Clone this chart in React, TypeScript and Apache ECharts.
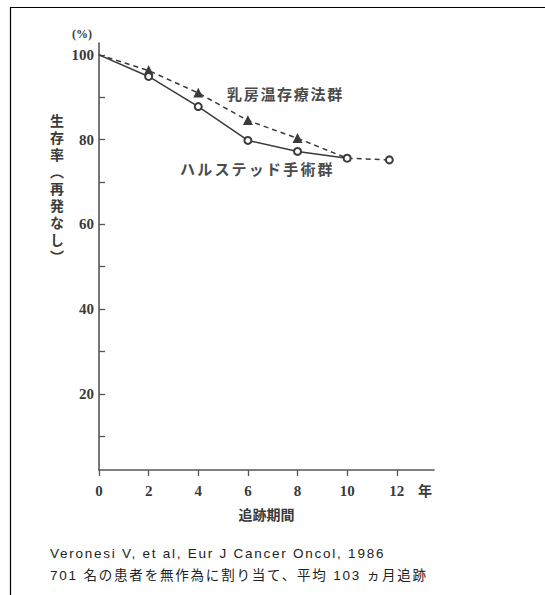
import React, { useEffect, useRef } from "react";
import * as echarts from "echarts";

const xTicks = [0, 2, 4, 6, 8, 10, 12];
const yTicks = [10, 20, 30, 40, 50, 60, 70, 80, 90, 100];
const yLabels = [20, 40, 60, 80, 100];

// 乳房温存療法群 (dashed, triangles)
const conservingYears = [0, 2, 4, 6, 8, 10, 11.7];
const conservingRates = [100, 96.3, 91.0, 84.5, 80.3, 75.6, 75.2];
// ハルステッド手術群 (solid, open circles)
const halstedYears = [0, 2, 4, 6, 8, 10];
const halstedRates = [100, 94.9, 87.8, 79.8, 77.2, 75.6];

const yAxisTitle = "生存率（再発なし）";
const label1 = "乳房温存療法群";
const label2 = "ハルステッド手術群";
const caption1 = "Veronesi V, et al, Eur J Cancer Oncol, 1986";
const caption2 = "701 名の患者を無作為に割り当て、平均 103 ヵ月追跡";

const INK = "#3a3a3a";
const SERIF = "'Liberation Serif', 'DejaVu Serif', serif";
const JP = "'Noto Sans CJK JP', sans-serif";

const spacing: Record<string, string> = {
  [caption1]: "1.75px",
  [caption2]: "1.8px",
  [label1]: "1.7px",
  [label2]: "2.2px",
  [yAxisTitle]: "3px",
};

export default function App() {
  const ref = useRef<HTMLDivElement>(null);
  useEffect(() => {
    if (!ref.current) return;
    const chart = echarts.init(ref.current, null, { renderer: "svg" });
    const conservingData = conservingYears.map((x, i) => {
      const item: any = { value: [x, conservingRates[i]] };
      if (i === 0 || i === 5) item.symbol = "none";
      if (i === conservingYears.length - 1) {
        item.symbol = "emptyCircle";
        item.symbolSize = 7;
      }
      return item;
    });
    const halstedData = halstedYears.map((x, i) => {
      const item: any = { value: [x, halstedRates[i]] };
      if (i === 0) item.symbol = "none";
      return item;
    });
    chart.setOption({
      animation: false,
      grid: { left: 99, top: 43, width: 335, height: 427 },
      xAxis: {
        type: "value",
        min: 0,
        max: 13.5,
        interval: 2,
        name: "追跡期間",
        nameLocation: "middle",
        nameGap: 37,
        nameTextStyle: { fontFamily: JP, fontSize: 14, fontWeight: "bold", color: INK },
        axisLine: { lineStyle: { color: "#555", width: 1.6 } },
        axisTick: { show: true, length: 6, inside: false, customValues: xTicks, lineStyle: { color: "#555", width: 1.3 } },
        axisLabel: {
          customValues: xTicks,
          margin: 13,
          fontFamily: SERIF,
          fontSize: 15,
          fontWeight: "bold",
          color: INK,
          formatter: (v: number) => (v % 2 === 0 && v <= 12 ? String(v) : ""),
        },
        splitLine: { show: false },
      },
      yAxis: {
        type: "value",
        min: 2,
        max: 102.8,
        axisLine: { show: true, lineStyle: { color: "#555", width: 1.6 } },
        axisTick: { show: true, inside: true, length: 6, customValues: yTicks, lineStyle: { color: "#555", width: 1.3 } },
        axisLabel: {
          customValues: yLabels,
          margin: 5,
          fontFamily: SERIF,
          fontSize: 15,
          fontWeight: "bold",
          color: INK,
        },
        splitLine: { show: false },
      },
      series: [
        {
          name: label1,
          type: "line",
          data: conservingData,
          symbol: "triangle",
          symbolSize: 8,
          lineStyle: { color: INK, width: 1.5, type: [5, 4] },
          itemStyle: { color: INK, borderColor: INK, borderWidth: 1.2 },
          z: 2,
        },
        {
          name: label2,
          type: "line",
          data: halstedData,
          symbol: "emptyCircle",
          symbolSize: 7,
          lineStyle: { color: INK, width: 1.5 },
          itemStyle: { color: INK, borderColor: INK, borderWidth: 1.2 },
          z: 3,
        },
      ],
      graphic: [
        {
          type: "rect",
          shape: { x: 10.5, y: 7.5, width: 700, height: 700 },
          style: { fill: "none", stroke: "#000", lineWidth: 1.2 },
          silent: true,
        },
        {
          type: "text",
          left: 72,
          top: 28,
          style: { text: "(%)", font: `bold 12px ${SERIF}`, fill: INK },
        },
        {
          type: "text",
          x: 57,
          y: 114,
          style: {
            text: yAxisTitle,
            font: `bold 14px ${JP}`,
            fill: INK,
            textAlign: "left",
            textVerticalAlign: "middle",
          },
        },
        {
          type: "text",
          x: 425,
          y: 490,
          style: { text: "年", font: `bold 14px ${JP}`, fill: INK, textAlign: "center", textVerticalAlign: "middle" },
        },
        {
          type: "text",
          x: 227,
          y: 93,
          style: { text: label1, font: `bold 15px ${JP}`, fill: "#4a4a4a", textAlign: "left", textVerticalAlign: "middle" },
        },
        {
          type: "text",
          x: 180,
          y: 168,
          style: { text: label2, font: `bold 15px ${JP}`, fill: "#4a4a4a", textAlign: "left", textVerticalAlign: "middle" },
        },
        {
          type: "text",
          x: 50,
          y: 553,
          style: { text: caption1, font: `13.5px 'Liberation Sans', Arial, sans-serif`, fill: "#222", textVerticalAlign: "middle" },
        },
        {
          type: "text",
          x: 50,
          y: 575,
          style: { text: caption2, font: `13.5px 'Liberation Sans', ${JP}`, fill: "#222", textVerticalAlign: "middle" },
        },
      ],
    });
    const applySpacing = () => {
      ref.current?.querySelectorAll("text").forEach((t) => {
        const content = t.textContent || "";
        const ls = spacing[content];
        if (ls) (t as SVGTextElement).style.letterSpacing = ls;
        if (content === yAxisTitle) {
          (t as SVGTextElement).style.writingMode = "vertical-rl";
          t.setAttribute("dominant-baseline", "central");
        }
      });
    };
    applySpacing();
    chart.on("finished", applySpacing);
    return () => chart.dispose();
  }, []);
  return (
    <div
      ref={ref}
      style={{ position: "absolute", left: 0, top: 0, width: 545, height: 595, background: "#fff" }}
    />
  );
}
